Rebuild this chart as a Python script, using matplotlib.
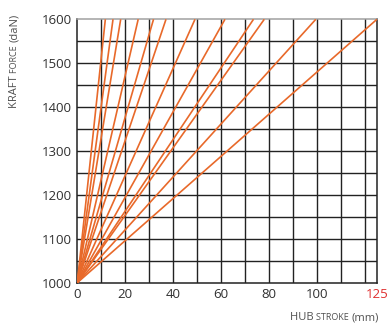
import matplotlib
matplotlib.use("Agg")
import matplotlib.pyplot as plt
import numpy as np

# Stroke (mm) at which each characteristic reaches the max force
stroke_at_max = [11.7, 14.9, 18.1, 25.4, 31.8, 37.0, 49.1, 61.6, 73.5, 78.0, 99.5, 125.0]
force_start = 1000
force_max = 1600

xticks = [0, 20, 40, 60, 80, 100, 125]
xtick_labels = ["0", "20", "40", "60", "80", "100", "125"]
yticks = [1000, 1100, 1200, 1300, 1400, 1500, 1600]

FONT = "Open Sans"
TXT = "#303030"
LBL = "#505050"
ORANGE = "#E8692A"
GRID = "#222222"

fig = plt.figure(figsize=(3.89, 3.26), dpi=100)
ax = fig.add_axes([0.1987, 0.1328, 0.9690 - 0.1987, 0.9408 - 0.1328])

ax.set_xlim(0, 125)
ax.set_ylim(1000, 1600)

# grid
for gx in np.arange(10, 125, 10):
    ax.axvline(gx, color=GRID, lw=1.0, zorder=1)
for gy in np.arange(1050, 1600, 50):
    ax.axhline(gy, color=GRID, lw=1.0, zorder=1)

for xe in stroke_at_max:
    ax.plot([0, xe], [force_start, force_max], color=ORANGE, lw=1.2, zorder=3,
            solid_capstyle="butt", clip_on=True)

for s in ax.spines.values():
    s.set_color(GRID)
    s.set_linewidth(1.1)
ax.spines["top"].set_color("#a0a0a0")

ax.set_xticks(xticks)
ax.set_xticklabels(xtick_labels, fontfamily=FONT, fontsize=9.5, color=TXT)
ax.set_yticks(yticks)
ax.set_yticklabels([str(v) for v in yticks], fontfamily=FONT, fontsize=9.5, color=TXT)
ax.tick_params(length=0, pad=4)
ax.get_xticklabels()[-1].set_color("#E03030")

fig.canvas.draw()
renderer = fig.canvas.get_renderer()


def draw_pieces(pieces, x, y, rotation=0):
    # pieces: list of (text, fontsize); drawn consecutively along baseline
    cx, cy = x, y  # in pixels
    for txt, fs in pieces:
        t = fig.text(cx / fig.bbox.width, cy / fig.bbox.height, txt,
                     fontsize=fs, fontfamily=FONT, color=LBL,
                     ha="left", va="baseline", rotation=rotation,
                     rotation_mode="anchor")
        ext = t.get_window_extent(renderer)
        if rotation == 0:
            cx = ext.x1
        else:
            cy = ext.y1


H = fig.bbox.height
xl_pieces = [("HUB ", 8), ("STROKE ", 6.5), ("(mm)", 8)]
tmp = [fig.text(0, 0, t, fontsize=f, fontfamily=FONT) for t, f in xl_pieces]
tw = sum(t.get_window_extent(renderer).width for t in tmp)
for t in tmp:
    t.remove()
draw_pieces(xl_pieces, 379 - tw, H - 320)

yl_pieces = [("KRAFT ", 8), ("FORCE ", 6.5), ("(daN)", 8)]
draw_pieces(yl_pieces, 17, H - 108, rotation=90)

fig.savefig("out.png", dpi=100)
